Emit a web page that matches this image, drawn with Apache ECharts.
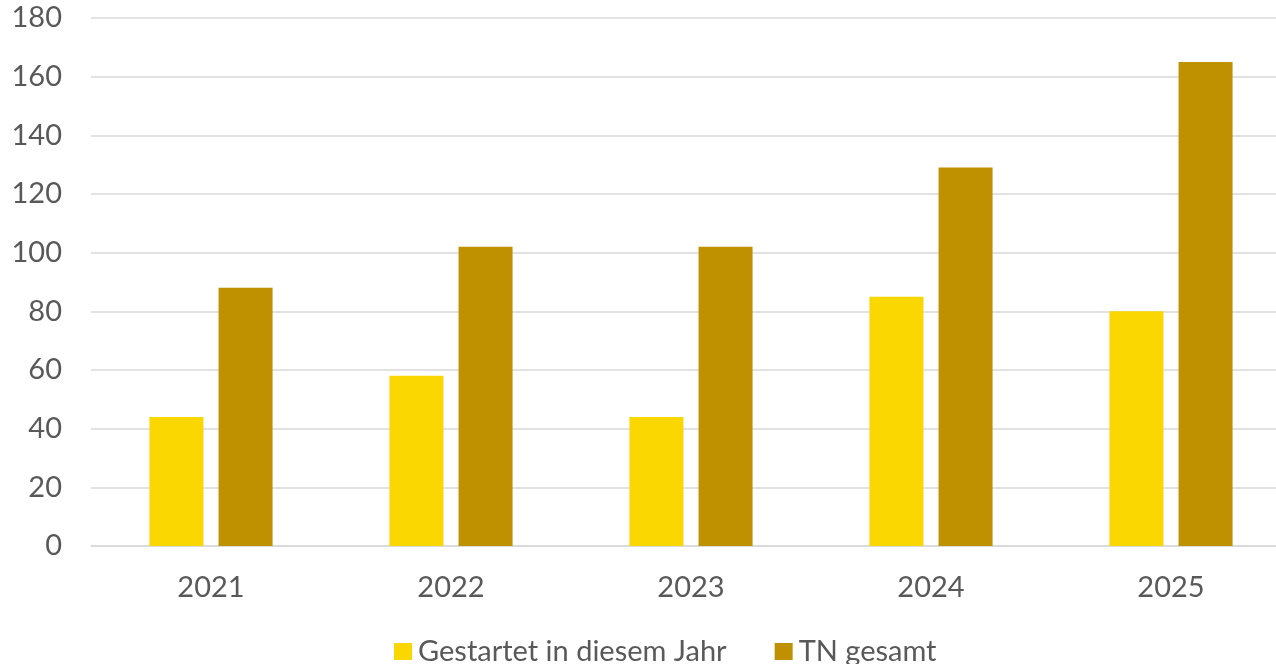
<!DOCTYPE html>
<html>
<head>
<meta charset="utf-8">
<script src="https://cdn.jsdelivr.net/npm/echarts@6/dist/echarts.min.js"></script>
<style>html,body{margin:0;padding:0;background:#fff;overflow:hidden;width:1276px;height:664px;}#c{width:1300px;height:664px;}</style>
</head>
<body>
<div id="c"></div>
<script>
const categories = ['2021', '2022', '2023', '2024', '2025'];
const gestartet = [44, 58, 44, 85, 80];
const tnGesamt = [88, 102, 102, 129, 165];
const yTicks = { min: 0, max: 180, interval: 20 };

const font = 'Lato';
const chart = echarts.init(document.getElementById('c'));
chart.setOption({
  animation: false,
  backgroundColor: '#ffffff',
  textStyle: { fontFamily: font },
  grid: { left: 91, top: 18, width: 1200, bottom: 118, containLabel: false },
  legend: {
    left: 389, top: 632,
    itemWidth: 18, itemHeight: 17, itemGap: 48,
    icon: 'rect',
    textStyle: { fontSize: 29, color: '#595959', fontFamily: font, padding: [0, 0, 0, 1] },
    data: ['Gestartet in diesem Jahr', 'TN gesamt']
  },
  xAxis: {
    type: 'category',
    data: categories,
    axisLine: { show: true, lineStyle: { color: '#D9D9D9', width: 1.5 } },
    axisTick: { show: false },
    axisLabel: { fontSize: 29, color: '#595959', margin: 27, fontFamily: font }
  },
  yAxis: {
    type: 'value',
    min: yTicks.min, max: yTicks.max, interval: yTicks.interval,
    axisLine: { show: false },
    axisTick: { show: false },
    splitLine: { lineStyle: { color: '#D9D9D9', width: 1.5 } },
    axisLabel: { fontSize: 29, color: '#595959', margin: 29, fontFamily: font }
  },
  series: [
    { name: 'Gestartet in diesem Jahr', type: 'bar', data: gestartet, barWidth: 54, barGap: '28%', itemStyle: { color: '#FAD700' } },
    { name: 'TN gesamt', type: 'bar', data: tnGesamt, barWidth: 54, barGap: '28%', itemStyle: { color: '#BF9000' } }
  ]
});
</script>
</body>
</html>
